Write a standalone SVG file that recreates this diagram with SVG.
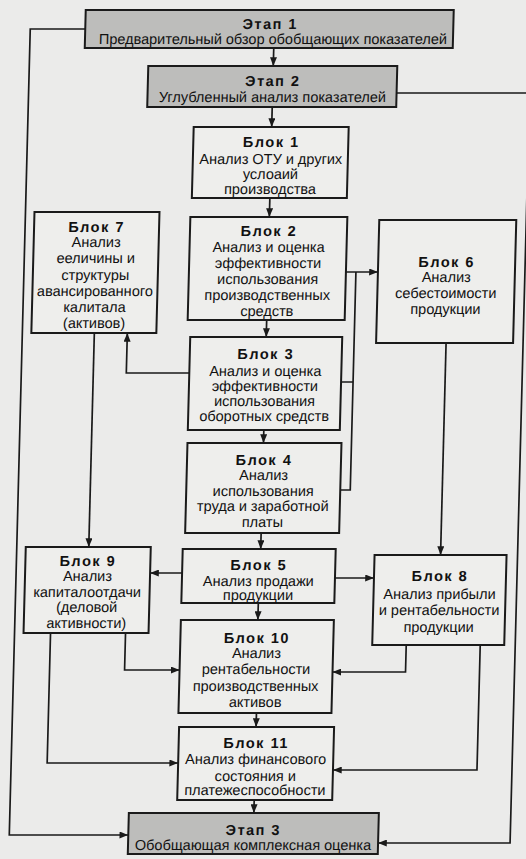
<svg xmlns="http://www.w3.org/2000/svg" width="526" height="859" viewBox="0 0 526 859">
  <style>
    .bg { fill: #ebebea; }
    .box { fill: #eeeeec; stroke: #1a1a1a; stroke-width: 2; }
    .stage { fill: #bdbdbb; stroke: #1a1a1a; stroke-width: 2; }
    .link { fill: none; stroke: #1a1a1a; stroke-width: 1.7; }
    .arrow { marker-end: url(#head); }
    text { font-family: "Liberation Sans", Arial, sans-serif; font-size: 14.5px; fill: #111; text-anchor: middle; }
    .h { font-weight: bold; letter-spacing: 1.5px; }
  </style>
  <defs>
    <marker id="head" viewBox="0 0 10 8" refX="10" refY="4" markerWidth="9" markerHeight="7" markerUnits="userSpaceOnUse" orient="auto">
      <path d="M0,0 L10,4 L0,8 Z" fill="#1a1a1a"/>
    </marker>
  </defs>

  <rect class="bg" x="0" y="0" width="526" height="859"/>

  <!-- the whole sheet sits with a slight lean to the left -->
  <g transform="skewX(-1.49)">
    <g id="connectors">
      <path class="link arrow" d="M275,48 V66"/>
      <path class="link arrow" d="M275,107 V127"/>
      <path class="link arrow" d="M275,198 V217"/>
      <path class="link arrow" d="M275,320 V337"/>
      <path class="link arrow" d="M275,430 V443"/>
      <path class="link arrow" d="M275,533 V549"/>
      <path class="link arrow" d="M274,603 V620"/>
      <path class="link arrow" d="M275,713 V727"/>
      <path class="link arrow" d="M275,800 V813"/>
      <!-- outer returns to stage 3 -->
      <path class="link arrow" d="M86,29 H31 V835 H150"/>
      <path class="link arrow" d="M399,93 H532 V843 H400"/>
      <!-- blocks 2, 3, 4 to block 6 -->
      <path class="link arrow" d="M353,272 H385"/>
      <path class="link" d="M351,382 H363"/>
      <path class="link" d="M353,490 H363 V272"/>
      <!-- block 3 to block 7, block 7 to block 9 -->
      <path class="link arrow" d="M199,373 H136 V333"/>
      <path class="link arrow" d="M103,333 V547"/>
      <!-- block 6 to block 8 -->
      <path class="link arrow" d="M455,343 V555"/>
      <!-- block 5 sideways -->
      <path class="link arrow" d="M197,573 H165"/>
      <path class="link arrow" d="M350,578 H389"/>
      <!-- into block 10 -->
      <path class="link arrow" d="M142,633 V670 H197"/>
      <path class="link arrow" d="M423,645 V672 H350"/>
      <!-- into block 11 -->
      <path class="link arrow" d="M67,633 V763 H198"/>
      <path class="link arrow" d="M497,645 V770 H353"/>
    </g>

    <g id="stage1">
      <rect class="stage" x="86" y="10" width="368" height="38"/>
      <text class="h" x="271" y="29.5">Этап 1</text>
      <text x="274" y="44.5">Предварительный обзор обобщающих показателей</text>
    </g>

    <g id="stage2">
      <rect class="stage" x="150" y="66" width="249" height="41"/>
      <text class="h" x="275" y="86.5">Этап 2</text>
      <text x="275" y="102">Углубленный анализ показателей</text>
    </g>

    <g id="block1">
      <rect class="box" x="197" y="127" width="155" height="71"/>
      <text class="h" x="275" y="147">Блок 1</text>
      <text x="275" y="164.5">Анализ ОТУ и других</text>
      <text x="275" y="179.5">услоаий</text>
      <text x="275" y="194.5">производства</text>
    </g>

    <g id="block2">
      <rect class="box" x="196" y="217" width="157" height="103"/>
      <text class="h" x="275" y="236.5">Блок 2</text>
      <text x="275" y="252">Анализ и оценка</text>
      <text x="275" y="268">эффективности</text>
      <text x="275" y="284">использования</text>
      <text x="275" y="300">производственных</text>
      <text x="275" y="316">средств</text>
    </g>

    <g id="block7">
      <rect class="box" x="40" y="212" width="125" height="121"/>
      <text class="h" x="102.5" y="232">Блок 7</text>
      <text x="102.5" y="247">Анализ</text>
      <text x="102.5" y="263.5">ееличины и</text>
      <text x="102.5" y="280">структуры</text>
      <text x="102.5" y="296">авансированного</text>
      <text x="102.5" y="312">калитала</text>
      <text x="102.5" y="328">(активов)</text>
    </g>

    <g id="block6">
      <rect class="box" x="385" y="220" width="137" height="123"/>
      <text class="h" x="453.5" y="267">Блок 6</text>
      <text x="453.5" y="282">Анализ</text>
      <text x="453.5" y="298">себестоимости</text>
      <text x="453.5" y="314">продукции</text>
    </g>

    <g id="block3">
      <rect class="box" x="199" y="337" width="152" height="93"/>
      <text class="h" x="275" y="359.5">Блок 3</text>
      <text x="275" y="376">Анализ и оценка</text>
      <text x="275" y="391">эффективности</text>
      <text x="275" y="406">использования</text>
      <text x="275" y="421">оборотных средств</text>
    </g>

    <g id="block4">
      <rect class="box" x="199" y="443" width="154" height="90"/>
      <text class="h" x="276" y="465">Блок 4</text>
      <text x="276" y="480.5">Анализ</text>
      <text x="276" y="496">использования</text>
      <text x="276" y="511">труда и заработной</text>
      <text x="276" y="527">платы</text>
    </g>

    <g id="block9">
      <rect class="box" x="40" y="547" width="125" height="86"/>
      <text class="h" x="102.5" y="566">Блок 9</text>
      <text x="102.5" y="581">Анализ</text>
      <text x="102.5" y="597">капиталоотдачи</text>
      <text x="102.5" y="612.5">(деловой</text>
      <text x="102.5" y="628">активности)</text>
    </g>

    <g id="block5">
      <rect class="box" x="197" y="549" width="153" height="54"/>
      <text class="h" x="273.5" y="570">Блок 5</text>
      <text x="273.5" y="586">Анализ продажи</text>
      <text x="273.5" y="600">продукции</text>
    </g>

    <g id="block8">
      <rect class="box" x="389" y="555" width="132" height="90"/>
      <text class="h" x="455" y="581.5">Блок 8</text>
      <text x="455" y="599">Анализ прибыли</text>
      <text x="455" y="615.5">и рентабельности</text>
      <text x="455" y="632">продукции</text>
    </g>

    <g id="block10">
      <rect class="box" x="197" y="620" width="153" height="93"/>
      <text class="h" x="273.5" y="643">Блок 10</text>
      <text x="273.5" y="658">Анализ</text>
      <text x="273.5" y="674.5">рентабельности</text>
      <text x="273.5" y="691">производственных</text>
      <text x="273.5" y="707.5">активов</text>
    </g>

    <g id="block11">
      <rect class="box" x="198" y="727" width="155" height="73"/>
      <text class="h" x="275.5" y="748">Блок 11</text>
      <text x="275.5" y="764.5">Анализ финансового</text>
      <text x="275.5" y="781">состояния и</text>
      <text x="275.5" y="795">платежеспособности</text>
    </g>

    <g id="stage3">
      <rect class="stage" x="150" y="813" width="250" height="41"/>
      <text class="h" x="275" y="835">Этап 3</text>
      <text x="275" y="850">Обобщающая комплексная оценка</text>
    </g>
  </g>
</svg>
